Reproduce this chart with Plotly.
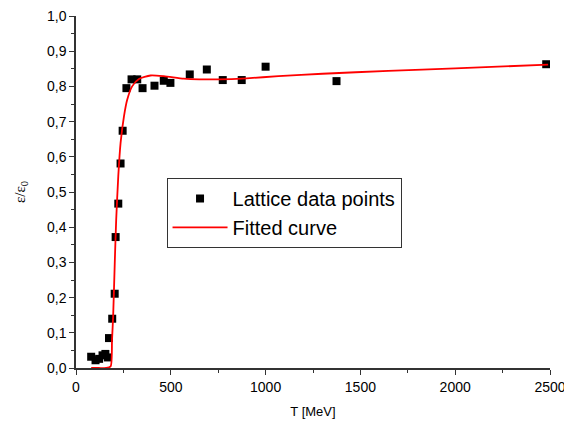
import plotly.graph_objects as go

# Lattice data points
lattice_T = [80, 103, 122, 140, 155, 168, 174, 191, 204, 209, 223, 235, 246,
             266, 293, 323, 351, 414, 463, 498, 600, 690, 774, 874, 1000, 1374, 2480]
lattice_eps = [0.032, 0.022, 0.026, 0.036, 0.040, 0.030, 0.085, 0.140, 0.211, 0.372,
               0.467, 0.581, 0.674, 0.795, 0.820, 0.820, 0.795, 0.802, 0.816, 0.810,
               0.834, 0.848, 0.818, 0.818, 0.856, 0.815, 0.863]

# Fitted curve
fit_T = [80, 120, 160, 183, 190, 196, 205, 212, 223, 235, 253, 270, 296, 332,
         393, 463, 568, 650, 750, 900, 1068, 1300, 1647, 2000, 2490]
fit_eps = [0.0, 0.0, 0.0, 0.005, 0.08, 0.148, 0.309, 0.422, 0.545, 0.639, 0.715,
           0.762, 0.800, 0.821, 0.831, 0.829, 0.822, 0.820, 0.820, 0.823, 0.829,
           0.836, 0.844, 0.851, 0.862]

x_ticks = [0, 500, 1000, 1500, 2000, 2500]
y_ticks = [0.0, 0.1, 0.2, 0.3, 0.4, 0.5, 0.6, 0.7, 0.8, 0.9, 1.0]

fig = go.Figure()
fig.add_trace(go.Scatter(
    x=lattice_T, y=lattice_eps, mode="markers", name="Lattice data points",
    marker=dict(symbol="square", size=8, color="black", line=dict(width=0)),
))
fig.add_trace(go.Scatter(
    x=fit_T, y=fit_eps, mode="lines", name="Fitted curve",
    line=dict(color="red", width=1.8, shape="spline", smoothing=0.6),
))

axis_common = dict(
    showline=True, linecolor="#333333", linewidth=1.5,
    ticks="outside", ticklen=5, tickwidth=1.2, tickcolor="#333333",
    showgrid=False, zeroline=False, mirror=False, automargin=False,
    ticklabeloverflow="allow",
    tickfont=dict(family="Liberation Sans, Arial", size=14, color="black"),
)

# page body adds an 8px offset; figure is sized to fit the 572x427 window
fig.update_layout(
    width=564, height=419,
    margin=dict(l=68, r=21.5, t=8, b=58.5),
    plot_bgcolor="white", paper_bgcolor="white",
    separators=",.",
    showlegend=True,
    legend=dict(
        x=0.191, y=0.540, xanchor="left", yanchor="top",
        bordercolor="#333333", borderwidth=1, bgcolor="white",
        font=dict(family="Liberation Sans, Arial", size=20, color="black"),
        tracegroupgap=0, itemwidth=55,
    ),
    xaxis=dict(
        range=[0, 2500], tickvals=x_ticks,
        minor=dict(ticks="outside", ticklen=3, tickcolor="#333333", dtick=250),
        title=dict(text="T [MeV]", font=dict(family="Liberation Sans, Arial", size=13, color="black"), standoff=13),
        **axis_common,
    ),
    yaxis=dict(
        range=[0, 1.0], tickvals=y_ticks, tickformat=".1f",
        minor=dict(ticks="outside", ticklen=3, tickcolor="#333333", dtick=0.05),
        title=dict(text="ε/ε<sub>0</sub>", font=dict(family="Liberation Serif, Times New Roman", size=15, color="black"), standoff=18),
        **axis_common,
    ),
)

fig.write_html("out.html")
